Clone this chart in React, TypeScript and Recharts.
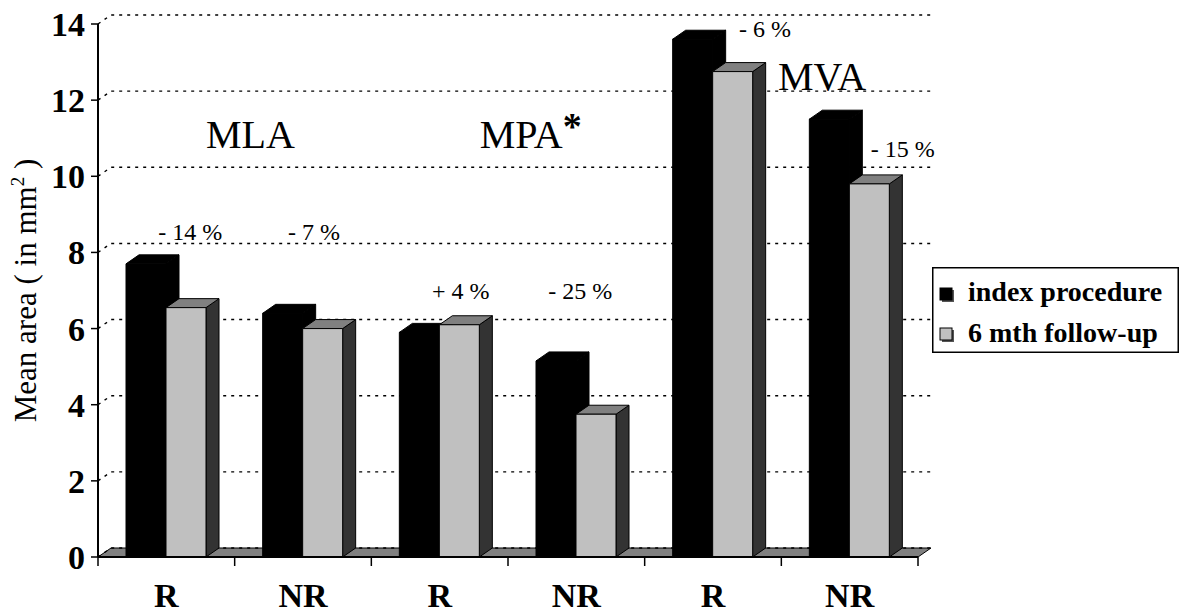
import React from "react";
import { BarChart, Bar, XAxis, YAxis, ReferenceLine, ReferenceDot, Legend, Label } from "recharts";

const ids = ["MLA-R", "MLA-NR", "MPA-R", "MPA-NR", "MVA-R", "MVA-NR"];
const groups = ["R", "NR", "R", "NR", "R", "NR"];
const indexProcedure = [7.7, 6.4, 5.9, 5.15, 13.6, 11.5];
const followUp = [6.55, 6.0, 6.1, 3.75, 12.75, 9.8];
const yTicks = [0, 2, 4, 6, 8, 10, 12, 14];
const seriesNames = ["index procedure", "6 mth follow-up"];
const changes = ["- 14 %", "- 7 %", "+ 4 %", "- 25 %", "- 6 %", "- 15 %"];
const regions = ["MLA", "MPA", "MVA"];

// where the annotations sit (category index, value of the baseline, x shift)
const changeAt = [
  { cat: 0, y: 8.33, dx: 24 },
  { cat: 1, y: 8.33, dx: 11 },
  { cat: 2, y: 6.78, dx: 21 },
  { cat: 3, y: 6.78, dx: 4 },
  { cat: 4, y: 13.66, dx: 52 },
  { cat: 5, y: 10.51, dx: 53 },
];
const regionAt = [
  { cat: 0, y: 10.74, dx: 84 },
  { cat: 2, y: 10.74, dx: 91 },
  { cat: 4, y: 12.27, dx: 109 },
];

const data = ids.map((id, i) => ({ id, group: groups[i], index: indexProcedure[i], follow: followUp[i] }));

const FONT = "Times New Roman, Liberation Serif, DejaVu Serif, serif";
const DX = 13;
const DY = 9;

function box(p: any, front: string, top: string, side: string) {
  const { x, y, width: w, height: h } = p;
  if (w == null || h == null) return <g />;
  return (
    <g stroke="#000" strokeWidth={1} strokeLinejoin="round">
      <polygon points={`${x + w},${y} ${x + w + DX},${y - DY} ${x + w + DX},${y + h - DY} ${x + w},${y + h}`} fill={side} />
      <polygon points={`${x},${y} ${x + DX},${y - DY} ${x + w + DX},${y - DY} ${x + w},${y}`} fill={top} />
      <rect x={x} y={y} width={w} height={h} fill={front} />
    </g>
  );
}

const BlackBox = (p: any) => box(p, "#000", "#000", "#000");
const GrayBox = (p: any) => box(p, "#c0c0c0", "#808080", "#333333");

const GridShape = (p: any) => (
  <path
    d={`M${p.x1},${p.y1} L${p.x1 + DX},${p.y1 - DY} L${p.x2 + DX},${p.y2 - DY}`}
    fill="none"
    stroke="#000"
    strokeWidth={1.4}
    strokeDasharray="3 5"
  />
);

const FloorShape = (p: any) => {
  const n = ids.length;
  const step = (p.x2 - p.x1) / n;
  return (
    <g>
      <polygon
        points={`${p.x1},${p.y1} ${p.x1 + DX},${p.y1 - DY} ${p.x2 + DX},${p.y2 - DY} ${p.x2},${p.y2}`}
        fill="#808080"
        stroke="#000"
        strokeWidth={1}
      />
      {Array.from({ length: n + 1 }, (_, i) => (
        <line key={i} x1={p.x1 + i * step} x2={p.x1 + i * step} y1={p.y1} y2={p.y1 + 9} stroke="#000" strokeWidth={1.5} />
      ))}
    </g>
  );
};

const XTick = (p: any) => (
  <text x={p.x} y={p.y + 42} textAnchor="middle" fontSize={34} fontWeight="bold" style={{ fontFamily: FONT }} fill="#000">
    {groups[ids.indexOf(p.payload.value)]}
  </text>
);

const YTitle = (p: any) => {
  const vb = p.viewBox || { x: 0, y: 24, width: 98, height: 533 };
  const cx = vb.x + 36;
  const cy = vb.y + vb.height / 2;
  return (
    <text x={cx} y={cy} transform={`rotate(-90, ${cx}, ${cy})`} textAnchor="middle" fontSize={31} style={{ fontFamily: FONT }} fill="#000">
      Mean area ( in mm
      <tspan fontSize={19} dy={-12}>2</tspan>
      <tspan dy={12}> )</tspan>
    </text>
  );
};

const textShape = (text: string, dx: number, size: number, star?: boolean) => (p: any) => (
  <text x={p.cx + dx} y={p.cy} textAnchor="middle" fontSize={size} style={{ fontFamily: FONT }} fill="#000">
    {text}
    {star ? (
      <tspan fontWeight="bold" fontSize={38} dy={-9}>*</tspan>
    ) : null}
  </text>
);

const LegendBox = () => (
  <svg width={247} height={86} style={{ display: "block" }}>
    <rect x={0.75} y={0.75} width={245.5} height={84.5} fill="#fff" stroke="#000" strokeWidth={1.5} />
    <rect x={10} y={23} width={12} height={12} fill="#555" />
    <rect x={8} y={21} width={12} height={12} fill="#000" stroke="#000" />
    <text x={36} y={34} fontSize={28} fontWeight="bold" style={{ fontFamily: FONT }} fill="#000">{seriesNames[0]}</text>
    <rect x={10} y={63} width={12} height={12} fill="#555" />
    <rect x={8} y={61} width={12} height={12} fill="#c0c0c0" stroke="#000" />
    <text x={36} y={75} fontSize={28} fontWeight="bold" style={{ fontFamily: FONT }} fill="#000">{seriesNames[1]}</text>
  </svg>
);

export default function App() {
  return (
    <div style={{ position: "absolute", left: 0, top: 0, width: 1179, height: 613, background: "#fff", fontFamily: FONT }}>
      <BarChart
        width={1179}
        height={613}
        data={data}
        margin={{ top: 24, right: 261, bottom: 0, left: 0 }}
        barCategoryGap={28}
        barGap={0}
        style={{ fontFamily: FONT }}
      >
        <XAxis
          dataKey="id"
          height={56}
          axisLine={{ stroke: "#000", strokeWidth: 2 }}
          tickLine={false}
          tickSize={8}
          tickMargin={0}
          tick={<XTick />}
          interval={0}
        />
        <YAxis
          width={98}
          domain={[0, 14]}
          ticks={yTicks}
          interval={0}
          axisLine={{ stroke: "#000", strokeWidth: 2 }}
          tickLine={{ stroke: "#000", strokeWidth: 1.5 }}
          tickSize={7}
          tickMargin={6}
          tick={{ fontSize: 34, fontWeight: "bold", fill: "#000", fontFamily: FONT }}
        >
          <Label content={<YTitle />} />
        </YAxis>
        <ReferenceLine y={0} shape={FloorShape} zIndex={-100} />
        {yTicks.map((v) => (
          <ReferenceLine key={v} y={v} shape={GridShape} zIndex={-90} />
        ))}
        <Bar dataKey="index" name={seriesNames[0]} fill="#000" shape={BlackBox} isAnimationActive={false} />
        <Bar dataKey="follow" name={seriesNames[1]} fill="#c0c0c0" shape={GrayBox} isAnimationActive={false} />
        {changeAt.map((a, i) => (
          <ReferenceDot key={"c" + i} x={ids[a.cat]} y={a.y} r={0} shape={textShape(changes[i], a.dx, 24)} />
        ))}
        {regionAt.map((a, i) => (
          <ReferenceDot key={"r" + i} x={ids[a.cat]} y={a.y} r={0} shape={textShape(regions[i], a.dx, 40, i === 1)} />
        ))}
        <Legend
          layout="vertical"
          align="center"
          verticalAlign="middle"
          wrapperStyle={{ left: 932, top: 267, width: 247, height: 86 }}
          content={<LegendBox />}
        />
      </BarChart>
    </div>
  );
}
